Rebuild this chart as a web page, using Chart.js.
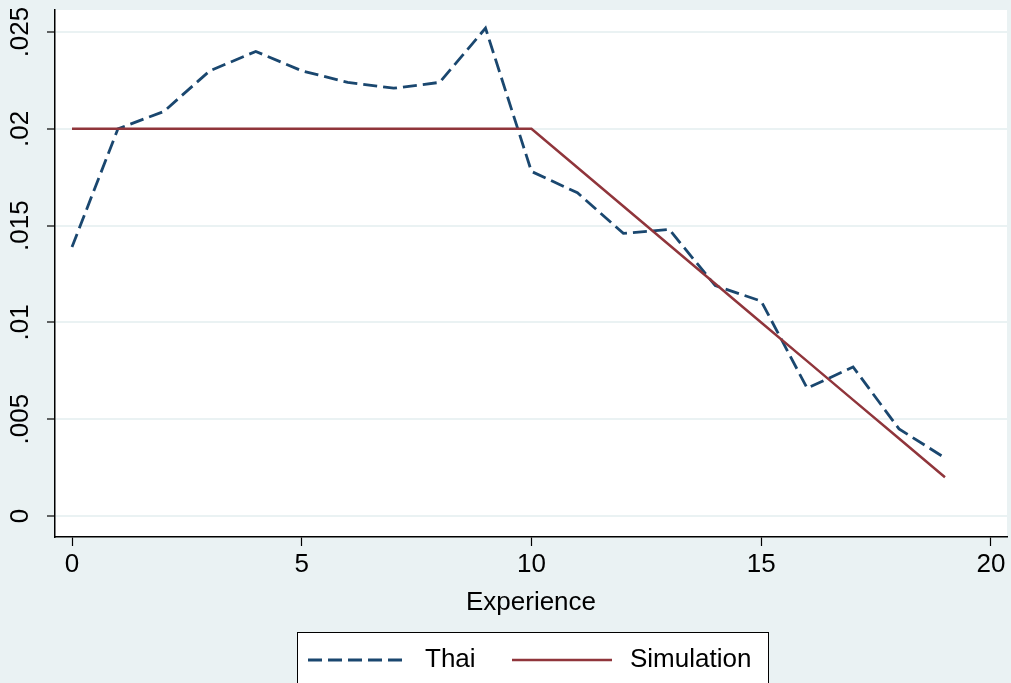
<!DOCTYPE html>
<html><head><meta charset="utf-8">
<script src="https://cdn.jsdelivr.net/npm/chart.js@4"></script>
<style>html,body{margin:0;padding:0;background:#eaf2f3;overflow:hidden}</style>
</head><body>
<canvas id="c" width="1011" height="683"></canvas>
<script>
const experience = [0,1,2,3,4,5,6,7,8,9,10,11,12,13,14,15,16,17,18,19];
const thai = [0.0139,0.0200,0.0209,0.0230,0.0240,0.0230,0.0224,0.0221,0.0224,0.0252,0.0178,0.0167,0.0146,0.0148,0.0119,0.0111,0.0066,0.0077,0.0045,0.0030];
const simulation = [0.020,0.020,0.020,0.020,0.020,0.020,0.020,0.020,0.020,0.020,0.020,0.018,0.016,0.014,0.012,0.010,0.008,0.006,0.004,0.002];
const xTickValues = [0,5,10,15,20];
const yTickValues = [0,0.005,0.01,0.015,0.02,0.025];
const yTickLabels = ['0','.005','.01','.015','.02','.025'];
const seriesNames = ['Thai','Simulation'];
const xTitle = 'Experience';

const FONT = "'Liberation Sans', Arial, sans-serif";
const FS = 26;

const bgPlugin = {
  id: 'bg',
  beforeDraw(chart) {
    const {ctx, chartArea: a} = chart;
    ctx.save();
    ctx.fillStyle = '#eaf2f3';
    ctx.fillRect(0, 0, chart.width, chart.height);
    ctx.fillStyle = '#ffffff';
    ctx.fillRect(a.left, a.top, a.right - a.left, a.bottom - a.top);
    ctx.restore();
  },
  afterDraw(chart) {
    const {ctx} = chart;
    const ys = chart.scales.y;
    ctx.save();
    ctx.fillStyle = '#000';
    ctx.font = FS + 'px ' + FONT;
    ctx.textAlign = 'center';
    ctx.textBaseline = 'middle';
    yTickValues.forEach((v, i) => {
      const y = ys.getPixelForValue(v);
      ctx.save();
      ctx.translate(21, y);
      ctx.rotate(-Math.PI / 2);
      ctx.fillText(yTickLabels[i], 0, 0);
      ctx.restore();
    });
    // legend
    const lx = 297, ly = 632, lw = 471, lh = 70;
    ctx.fillStyle = '#fff';
    ctx.fillRect(lx, ly, lw, lh);
    ctx.strokeStyle = '#000';
    ctx.lineWidth = 1;
    ctx.strokeRect(lx + 0.5, ly + 0.5, lw, lh);
    const cy = 660;
    const items = [{x0: 308, tx: 425}, {x0: 512, tx: 630}];
    chart.data.datasets.forEach((ds, i) => {
      const it = items[i];
      ctx.save();
      ctx.strokeStyle = ds.borderColor;
      ctx.lineWidth = ds.borderWidth;
      ctx.setLineDash(ds.borderDash || []);
      ctx.beginPath();
      ctx.moveTo(it.x0, cy);
      ctx.lineTo(it.x0 + 100, cy);
      ctx.stroke();
      ctx.restore();
      ctx.fillStyle = '#000';
      ctx.textAlign = 'left';
      ctx.textBaseline = 'middle';
      ctx.fillText(ds.label, it.tx, cy);
    });
    ctx.restore();
  }
};

new Chart(document.getElementById('c'), {
  type: 'line',
  data: {
    datasets: [
      {label: seriesNames[0], data: experience.map((x, i) => ({x, y: thai[i]})),
       borderColor: '#1a476f', borderWidth: 2.8, borderDash: [14, 6], pointRadius: 0, fill: false, tension: 0, order: 1},
      {label: seriesNames[1], data: experience.map((x, i) => ({x, y: simulation[i]})),
       borderColor: '#90353b', borderWidth: 2.5, pointRadius: 0, fill: false, tension: 0, order: 0}
    ]
  },
  options: {
    responsive: false,
    animation: false,
    devicePixelRatio: 1,
    layout: {padding: {top: 10, right: 4, bottom: 61, left: 0}},
    plugins: {legend: {display: false}, tooltip: {enabled: false}, title: {display: false}},
    scales: {
      x: {
        type: 'linear', min: -0.37, max: 20.35,
        afterBuildTicks: s => { s.ticks = xTickValues.map(v => ({value: v})); },
        afterFit: s => { s.height = 85; },
        ticks: {font: {family: FONT, size: FS}, color: '#000', padding: 3, maxRotation: 0, autoSkip: false, callback: v => String(v)},
        grid: {drawOnChartArea: false, drawTicks: true, tickLength: 9, tickColor: '#000', tickWidth: 1.2},
        border: {display: true, color: '#000', width: 1.5},
        title: {display: true, text: xTitle, color: '#000', font: {family: FONT, size: FS}, padding: {top: 0, bottom: 4}}
      },
      y: {
        type: 'linear', min: -0.001085, max: 0.02614,
        afterBuildTicks: s => { s.ticks = yTickValues.map(v => ({value: v})); },
        afterFit: s => { s.width = 55; },
        ticks: {display: false},
        grid: {color: '#eaf2f3', lineWidth: 2, drawTicks: true, tickLength: 8, tickColor: '#000', tickWidth: 1.2},
        border: {display: true, color: '#000', width: 1.5}
      }
    }
  },
  plugins: [bgPlugin]
});
</script>
</body></html>
